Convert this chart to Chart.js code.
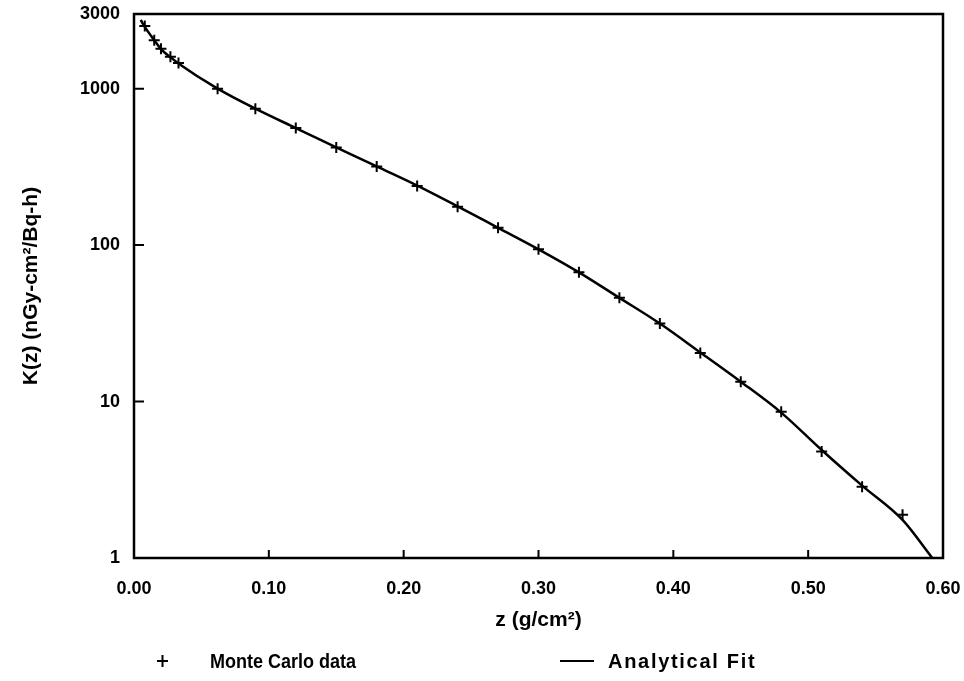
<!DOCTYPE html>
<html lang="en">
<head>
    <meta charset="UTF-8">
    <title>K(z) - Monte Carlo vs Analytical Fit</title>
    <script src="https://cdn.jsdelivr.net/npm/chart.js"></script>
    <style>
        html, body { margin: 0; padding: 0; background: #fff; }
        #wrap { width: 964px; height: 681px; }
    </style>
</head>
<body>
<div id="wrap"><canvas id="kzChart" width="964" height="681"></canvas></div>

<script>
    // Monte Carlo points
    const mcZ = [0.008, 0.015, 0.020, 0.027, 0.033, 0.062, 0.09, 0.12, 0.15, 0.18, 0.21, 0.24,
                 0.27, 0.30, 0.33, 0.36, 0.39, 0.42, 0.45, 0.48, 0.51, 0.54, 0.57];
    const mcK = [2510, 2040, 1800, 1600, 1460, 1000, 745, 560, 421, 318, 239, 176,
                 129, 94, 67, 46, 31.5, 20.4, 13.4, 8.6, 4.8, 2.85, 1.89];

    // analytical fit curve
    const fitZ = [0.005, 0.008, 0.015, 0.020, 0.027, 0.033, 0.062, 0.09, 0.12, 0.15, 0.18, 0.21,
                  0.24, 0.27, 0.30, 0.33, 0.36, 0.39, 0.42, 0.45, 0.48, 0.51, 0.54, 0.57, 0.592];
    const fitK = [2750, 2480, 2040, 1790, 1590, 1450, 1000, 745, 560, 422, 318, 240,
                  177, 129, 94, 67, 46, 31.5, 20.6, 13.4, 8.5, 4.9, 2.9, 1.75, 1.0];

    const xTickValues = [0, 0.1, 0.2, 0.3, 0.4, 0.5, 0.6];
    const xTickLabels = ['0.00', '0.10', '0.20', '0.30', '0.40', '0.50', '0.60'];
    const yTickValues = [1, 10, 100, 1000, 3000];
    const yTickLabels = ['1', '10', '100', '1000', '3000'];

    const FONT = '"Liberation Sans", Arial, sans-serif';
    const toPoints = (xs, ys) => xs.map((x, i) => ({x: x, y: ys[i]}));

    // box, inward ticks and legend
    const framePlugin = {
        id: 'frame',
        afterDraw(chart) {
            const ctx = chart.ctx;
            const a = chart.chartArea;
            const xs = chart.scales.x, ys = chart.scales.y;
            ctx.save();
            ctx.strokeStyle = '#000';
            ctx.lineWidth = 2.5;
            ctx.strokeRect(a.left, a.top, a.right - a.left, a.bottom - a.top);

            ctx.lineWidth = 2;
            ctx.beginPath();
            xTickValues.slice(1, -1).forEach(v => {
                const px = xs.getPixelForValue(v);
                ctx.moveTo(px, a.bottom);
                ctx.lineTo(px, a.bottom - 8);
            });
            [10, 100, 1000].forEach(v => {
                const py = ys.getPixelForValue(v);
                ctx.moveTo(a.left, py);
                ctx.lineTo(a.left + 10, py);
            });
            ctx.stroke();

            // legend
            const ly = 661;
            const ds = chart.data.datasets;
            ctx.lineWidth = 2;
            ctx.beginPath();
            ctx.moveTo(157, ly); ctx.lineTo(168, ly);
            ctx.moveTo(162.5, ly - 6); ctx.lineTo(162.5, ly + 6);
            ctx.moveTo(560, ly); ctx.lineTo(594, ly);
            ctx.stroke();
            ctx.fillStyle = '#000';
            ctx.font = 'bold 20px ' + FONT;
            ctx.textBaseline = 'middle';
            ctx.textAlign = 'left';
            ctx.fillText(ds[0].label, 210, ly + 1, 146);
            ctx.letterSpacing = '1.7px';
            ctx.fillText(ds[1].label, 608, ly + 1);
            ctx.restore();
        }
    };

    const ctx1 = document.getElementById('kzChart').getContext('2d');
    const kzChart = new Chart(ctx1, {
        type: 'scatter',
        data: {
            datasets: [{
                label: 'Monte Carlo data',
                data: toPoints(mcZ, mcK),
                showLine: false,
                pointStyle: 'cross',
                pointRadius: 5.5,
                borderColor: '#000',
                backgroundColor: '#000',
                borderWidth: 2
            }, {
                label: 'Analytical Fit',
                data: toPoints(fitZ, fitK),
                showLine: true,
                pointRadius: 0,
                borderColor: '#000',
                borderWidth: 2.5,
                cubicInterpolationMode: 'monotone'
            }]
        },
        options: {
            responsive: false,
            animation: false,
            layout: { padding: { top: 14, right: 21, bottom: 0, left: 0 } },
            plugins: {
                legend: { display: false },
                tooltip: { enabled: false }
            },
            scales: {
                x: {
                    type: 'linear',
                    min: 0,
                    max: 0.6,
                    grid: { display: false, drawTicks: false, tickLength: 0 },
                    border: { display: false },
                    afterBuildTicks: s => { s.ticks = xTickValues.map(v => ({value: v})); },
                    afterFit: s => { s.height = 123; s.paddingLeft = 0; s.paddingRight = 0; },
                    ticks: {
                        padding: 20,
                        color: '#000',
                        maxRotation: 0,
                        font: { family: FONT, size: 18, weight: 'bold' },
                        callback: (v, i) => xTickLabels[i]
                    },
                    title: {
                        display: true,
                        text: 'z (g/cm²)',
                        color: '#000',
                        padding: { top: 0, bottom: 48 },
                        font: { family: FONT, size: 21, weight: 'bold' }
                    }
                },
                y: {
                    type: 'logarithmic',
                    min: 1,
                    max: 3000,
                    grid: { display: false, drawTicks: false, tickLength: 0 },
                    border: { display: false },
                    afterBuildTicks: s => { s.ticks = yTickValues.map(v => ({value: v})); },
                    afterFit: s => { s.width = 134; s.paddingTop = 0; s.paddingBottom = 0; },
                    ticks: {
                        padding: 14,
                        color: '#000',
                        font: { family: FONT, size: 18, weight: 'bold' },
                        callback: (v, i) => yTickLabels[i]
                    },
                    title: {
                        display: true,
                        text: 'K(z) (nGy-cm²/Bq-h)',
                        color: '#000',
                        padding: { top: 19, bottom: 0 },
                        font: { family: FONT, size: 21, weight: 'bold' }
                    }
                }
            }
        },
        plugins: [framePlugin]
    });
</script>
</body>
</html>
